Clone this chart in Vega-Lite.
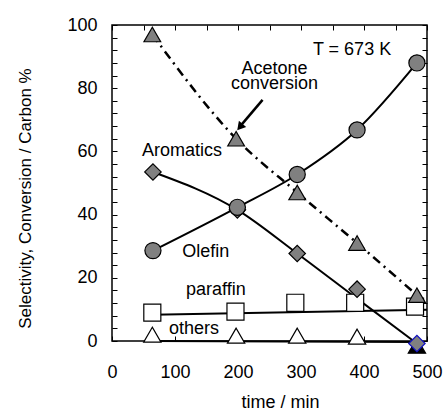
{
  "$schema": "https://vega.github.io/schema/vega-lite/v6.json",
  "width": 315,
  "height": 316,
  "autosize": "none",
  "padding": {"left": 112, "top": 25, "right": 18, "bottom": 71},
  "background": "white",
  "config": {
    "font": "Liberation Sans, Arial, sans-serif",
    "view": {"stroke": "black", "strokeWidth": 1.5},
    "axis": {
      "domain": false,
      "grid": false,
      "tickColor": "black",
      "tickSize": -5,
      "tickWidth": 1,
      "labelColor": "black",
      "labelFontSize": 18,
      "titleFontSize": 18,
      "titleFontWeight": "normal",
      "titleColor": "black",
      "labelFont": "Liberation Sans, Arial, sans-serif",
      "titleFont": "Liberation Sans, Arial, sans-serif"
    }
  },
  "datasets": {
    "pts": [
      {"series": "others", "t": 64, "v": 2.0},
      {"series": "others", "t": 197, "v": 1.7},
      {"series": "others", "t": 294, "v": 1.7},
      {"series": "others", "t": 389, "v": 1.4},
      {"series": "others", "t": 484, "v": -1.5},
      {"series": "paraffin", "t": 64, "v": 9.0},
      {"series": "paraffin", "t": 196, "v": 9.3},
      {"series": "paraffin", "t": 291, "v": 12.1},
      {"series": "paraffin", "t": 386, "v": 12.1},
      {"series": "paraffin", "t": 481, "v": 10.9},
      {"series": "Acetone conversion", "t": 64, "v": 97.0},
      {"series": "Acetone conversion", "t": 197, "v": 64.0},
      {"series": "Acetone conversion", "t": 294, "v": 47.0},
      {"series": "Acetone conversion", "t": 389, "v": 31.0},
      {"series": "Acetone conversion", "t": 484, "v": 14.5},
      {"series": "Aromatics", "t": 65, "v": 53.5},
      {"series": "Aromatics", "t": 199, "v": 41.5},
      {"series": "Aromatics", "t": 294, "v": 27.7},
      {"series": "Aromatics", "t": 389, "v": 16.4},
      {"series": "Aromatics", "t": 484, "v": -0.8},
      {"series": "Olefin", "t": 65, "v": 28.6},
      {"series": "Olefin", "t": 199, "v": 42.3},
      {"series": "Olefin", "t": 294, "v": 52.7},
      {"series": "Olefin", "t": 389, "v": 66.8},
      {"series": "Olefin", "t": 484, "v": 88.0}
    ],
    "fits": [
      {"series": "paraffin", "t": 64, "v": 8.3},
      {"series": "paraffin", "t": 500, "v": 9.9},
      {"series": "others", "t": 64, "v": 0.0},
      {"series": "others", "t": 484, "v": -0.3},
      {"series": "Aromatics", "t": 65, "v": 53.5},
      {"series": "Aromatics", "t": 199, "v": 41.5},
      {"series": "Aromatics", "t": 294, "v": 27.7},
      {"series": "Aromatics", "t": 389, "v": 13.4},
      {"series": "Aromatics", "t": 484, "v": -0.8}
    ],
    "labels": [
      {"text": "T = 673 K", "t": 381, "v": 92.1},
      {"text": "Acetone", "t": 258, "v": 86.1},
      {"text": "conversion", "t": 258, "v": 81.3},
      {"text": "Aromatics", "t": 111, "v": 60.1},
      {"text": "Olefin", "t": 149, "v": 28.2},
      {"text": "paraffin", "t": 165, "v": 16.1},
      {"text": "others", "t": 130, "v": 3.8}
    ],
    "arrow": [
      {"t": 239, "v": 76.3, "t2": 205, "v2": 68.3}
    ],
    "arrowhead": [
      {"t": 203, "v": 67.7}
    ]
  },
  "resolve": {"axis": {"x": "independent", "y": "independent"}},
  "layer": [
    {
      "layer": [
        {
          "data": {"name": "pts"},
          "transform": [{"filter": "datum.series === 'Acetone conversion'"}],
          "mark": {"type": "line", "color": "black", "strokeWidth": 2.5, "strokeDash": [9, 5, 2, 5], "interpolate": "monotone"},
          "encoding": {
            "x": {"field": "t", "type": "quantitative", "scale": {"domain": [0, 500], "nice": false},
              "title": "time / min",
              "axis": {"values": [0, 50, 100, 150, 200, 250, 300, 350, 400, 450, 500], "labelExpr": "datum.value % 100 === 0 ? datum.label : ''", "labelPadding": 27, "titleX": 168, "titleY": 61, "titleBaseline": "middle", "labelFlush": false}},
            "y": {"field": "v", "type": "quantitative", "scale": {"domain": [0, 100], "nice": false},
              "title": "Selectivity, Conversion / Carbon %",
              "axis": {"values": [0, 20, 40, 60, 80, 100], "labelPadding": 20, "titleFontSize": 17, "titleX": -87, "titleY": 173, "titleBaseline": "middle", "labelFlush": false}}
          }
        },
        {
          "data": {"name": "pts"},
          "transform": [{"filter": "datum.series === 'Olefin'"}],
          "mark": {"type": "line", "color": "black", "strokeWidth": 2, "interpolate": "monotone"},
          "encoding": {
            "x": {"field": "t", "type": "quantitative", "title": "time / min"},
            "y": {"field": "v", "type": "quantitative", "title": "Selectivity, Conversion / Carbon %"}
          }
        },
        {
          "data": {"name": "fits"},
          "mark": {"type": "line", "color": "black", "strokeWidth": 2, "interpolate": "monotone"},
          "encoding": {
            "x": {"field": "t", "type": "quantitative", "title": "time / min"},
            "y": {"field": "v", "type": "quantitative", "title": "Selectivity, Conversion / Carbon %"},
            "detail": {"field": "series"}
          }
        },
        {
          "data": {"name": "pts"},
          "mark": {"type": "point", "filled": true, "opacity": 1, "strokeWidth": 1.2},
          "encoding": {
            "x": {"field": "t", "type": "quantitative", "title": "time / min"},
            "y": {"field": "v", "type": "quantitative", "title": "Selectivity, Conversion / Carbon %"},
            "shape": {"field": "series", "type": "nominal", "legend": null,
              "scale": {"domain": ["others", "paraffin", "Acetone conversion", "Aromatics", "Olefin"], "range": ["triangle-up", "square", "triangle-up", "diamond", "circle"]}},
            "size": {"field": "series", "type": "nominal", "legend": null,
              "scale": {"domain": ["others", "paraffin", "Acetone conversion", "Aromatics", "Olefin"], "range": [300, 260, 300, 330, 230]}},
            "fill": {
              "condition": {"test": "datum.series === 'others' && datum.t > 480", "value": "black"},
              "field": "series", "type": "nominal", "legend": null,
              "scale": {"domain": ["others", "paraffin", "Acetone conversion", "Aromatics", "Olefin"], "range": ["white", "white", "#808080", "#808080", "#808080"]}},
            "stroke": {
              "condition": {"test": "datum.series === 'Aromatics' && datum.t > 480", "value": "#1010c0"},
              "value": "black"}
          }
        },
        {
          "data": {"name": "labels"},
          "mark": {"type": "text", "fontSize": 18, "color": "black", "align": "center", "baseline": "middle"},
          "encoding": {
            "x": {"field": "t", "type": "quantitative", "title": "time / min"},
            "y": {"field": "v", "type": "quantitative", "title": "Selectivity, Conversion / Carbon %"},
            "text": {"field": "text"}
          }
        },
        {
          "data": {"name": "arrow"},
          "mark": {"type": "rule", "color": "black", "strokeWidth": 2.5},
          "encoding": {
            "x": {"field": "t", "type": "quantitative", "title": "time / min"},
            "y": {"field": "v", "type": "quantitative", "title": "Selectivity, Conversion / Carbon %"},
            "x2": {"field": "t2"},
            "y2": {"field": "v2"}
          }
        },
        {
          "data": {"name": "arrowhead"},
          "mark": {"type": "point", "shape": "triangle-up", "filled": true, "color": "black", "opacity": 1, "size": 90, "angle": 220},
          "encoding": {
            "x": {"field": "t", "type": "quantitative", "title": "time / min"},
            "y": {"field": "v", "type": "quantitative", "title": "Selectivity, Conversion / Carbon %"}
          }
        }
      ]
    },
    {
      "data": {"values": [{"t": 0, "v": 0}]},
      "mark": {"type": "point", "opacity": 0},
      "encoding": {
        "x": {"field": "t", "type": "quantitative", "title": null,
          "axis": {"orient": "top", "labels": false, "values": [0, 50, 100, 150, 200, 250, 300, 350, 400, 450, 500]}},
        "y": {"field": "v", "type": "quantitative", "title": null,
          "axis": {"orient": "right", "labels": false, "values": [0, 4, 8, 12, 16, 20, 24, 28, 32, 36, 40, 44, 48, 52, 56, 60, 64, 68, 72, 76, 80, 84, 88, 92, 96, 100]}}
      }
    },
    {
      "data": {"values": [{"t": 0, "v": 0}]},
      "mark": {"type": "point", "opacity": 0},
      "encoding": {
        "x": {"field": "t", "type": "quantitative", "axis": null},
        "y": {"field": "v", "type": "quantitative", "title": null,
          "axis": {"orient": "left", "labels": false, "values": [4, 8, 12, 16, 24, 28, 32, 36, 44, 48, 52, 56, 64, 68, 72, 76, 84, 88, 92, 96]}}
      }
    }
  ]
}
